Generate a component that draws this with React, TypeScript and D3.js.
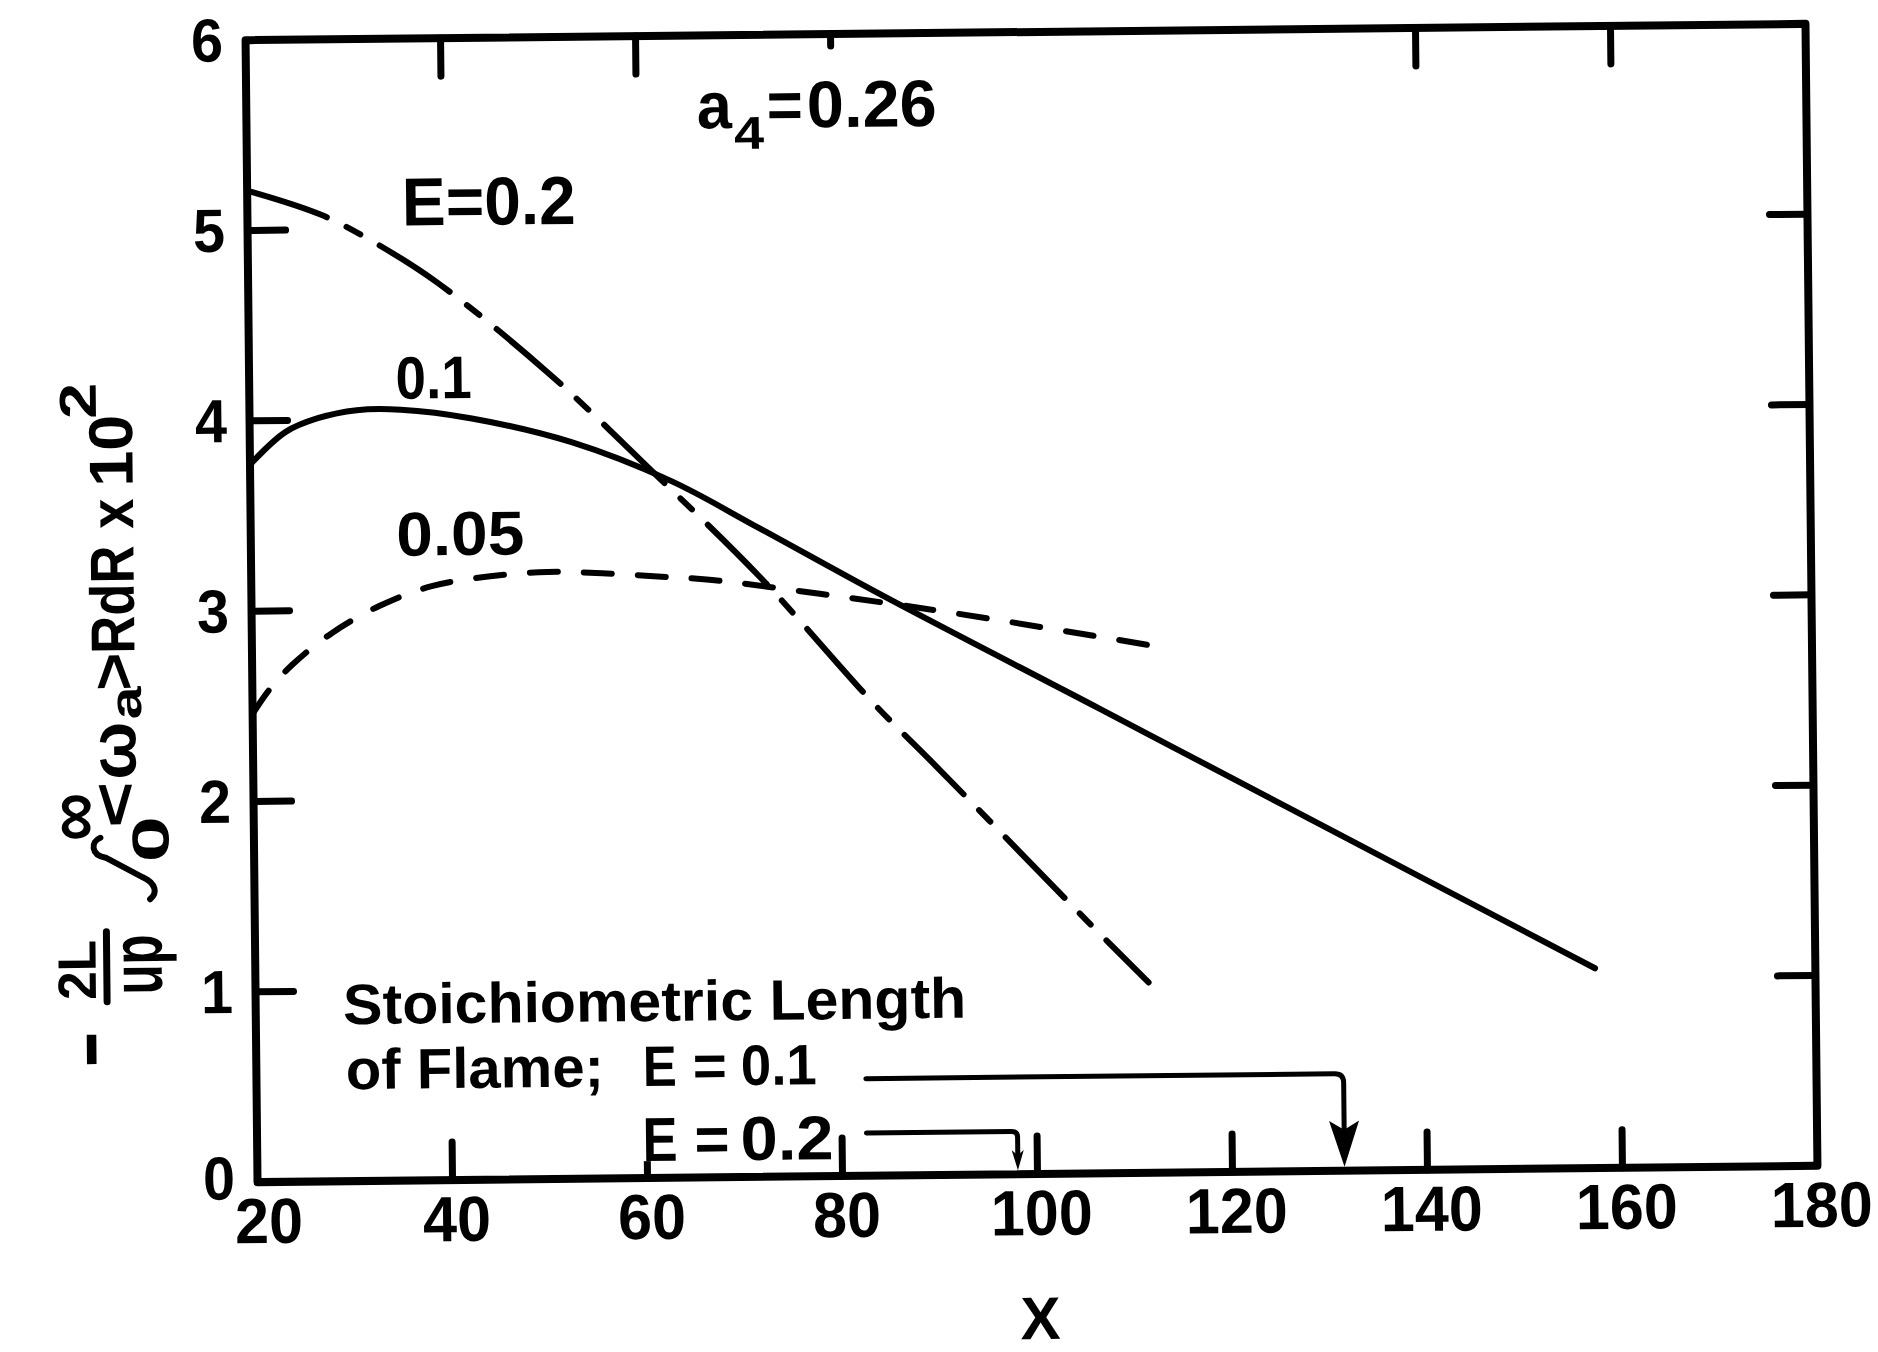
import React from "react";
import * as d3 from "d3";

const W = 1878;
const H = 1352;
const FONT = "'Liberation Sans', Arial, Helvetica, sans-serif";

// axes
const xDomain: [number, number] = [20, 180];
const yDomain: [number, number] = [0, 6];
const xTicks = [20, 40, 60, 80, 100, 120, 140, 160, 180];
const yTicks = [0, 1, 2, 3, 4, 5, 6];
const topTicks = [40, 60, 140, 160];
const topShortTicks = [80];

// E = 0.2 (long-short dashed)
const e02X = [20, 27.5, 33, 39.3, 50.8, 60.7, 72.2, 83.9, 90, 105.3, 111.6];
const e02Y = [5.21, 5.08, 4.93, 4.72, 4.23, 3.74, 3.15, 2.47, 2.15, 1.33, 1.0];

// E = 0.1 (solid)
const e01X = [20, 23.7, 27, 31, 35.5, 42.8, 53, 63.2, 72.1, 85, 106.9, 126.5, 157.4];
const e01Y = [3.77, 3.94, 4.01, 4.05, 4.05, 4.0, 3.87, 3.66, 3.41, 3.04, 2.44, 1.9, 1.05];

// E = 0.05 (dashed)
const e005X = [20, 21.8, 24.2, 28.2, 33.1, 38.4, 44.5, 50.4, 56, 61.7, 67, 78.3, 92.2, 112.3];
const e005Y = [2.46, 2.59, 2.72, 2.88, 3.02, 3.12, 3.17, 3.19, 3.18, 3.16, 3.14, 3.06, 2.95, 2.77];

// stoichiometric flame length markers
const stoichE01X = 131.5;
const stoichE02X = 98.0;
const leaderStartX = 82.5;
const leaderE01Y = 0.51;
const leaderE02Y = 0.225;

const L = 251.5;
const R = 1811.5;
const T = 32;
const B = 1174;
const TICK = 38;

export default function App() {
  const x = d3.scaleLinear().domain(xDomain).range([L, R]);
  const y = d3.scaleLinear().domain(yDomain).range([B, T]);
  const line = d3
    .line<[number, number]>()
    .x((d) => x(d[0]))
    .y((d) => y(d[1]))
    .curve(d3.curveCatmullRom.alpha(0.5));
  const zip = (xs: number[], ys: number[]) =>
    xs.map((v, i) => [v, ys[i]] as [number, number]);

  const innerX = xTicks.filter((v) => v !== xDomain[0] && v !== xDomain[1]);
  const innerY = yTicks.filter((v) => v !== yDomain[0] && v !== yDomain[1]);

  const a1x = x(stoichE01X);
  const a1y = y(leaderE01Y);
  const a2x = x(stoichE02X);
  const a2y = y(leaderE02Y);
  const base = y(0) - 4;
  const r = 9;

  const tl = (n: number) => ({ textLength: n, lengthAdjust: "spacingAndGlyphs" as const });

  return (
    <svg
      width={W}
      height={H}
      style={{ position: "absolute", left: 0, top: 0, background: "#fff" }}
    >
      <rect width={W} height={H} fill="#fff" />
      <g transform="rotate(-0.6 1031.5 603)" fontFamily={FONT} fontWeight="bold" fill="#000">
        {/* frame */}
        <rect
          x={L}
          y={T}
          width={R - L}
          height={B - T}
          fill="none"
          stroke="#000"
          strokeWidth={8}
          strokeLinejoin="round"
        />
        {/* ticks */}
        <g stroke="#000" strokeWidth={7} strokeLinecap="round">
          {innerX.map((v) => (
            <line key={"xb" + v} x1={x(v)} x2={x(v)} y1={B} y2={B - TICK} />
          ))}
          {topTicks.map((v) => (
            <line key={"xt" + v} x1={x(v)} x2={x(v)} y1={T} y2={T + TICK} />
          ))}
          {topShortTicks.map((v) => (
            <line key={"xs" + v} x1={x(v)} x2={x(v)} y1={T} y2={T + 12} />
          ))}
          {innerY.map((v) => (
            <g key={"yt" + v}>
              <line x1={L} x2={L + TICK} y1={y(v)} y2={y(v)} />
              <line x1={R} x2={R - TICK} y1={y(v)} y2={y(v)} />
            </g>
          ))}
        </g>
        {/* tick labels */}
        {xTicks.map((v, i) => (
          <text
            key={"xl" + v}
            x={x(v) + (i === 0 ? 11 : 4)}
            y={B + 61}
            fontSize={64}
            textAnchor="middle"
            {...tl(String(v).length * 34)}
          >
            {v}
          </text>
        ))}
        {yTicks.map((v) => (
          <text key={"yl" + v} x={229} y={y(v) + (v === 0 ? 17 : 21)} fontSize={61} textAnchor="end" {...tl(32)}>
            {v}
          </text>
        ))}

        {/* curves */}
        <path
          d={line(zip(e02X, e02Y)) || ""}
          fill="none"
          stroke="#000"
          strokeWidth={6}
          strokeLinecap="round"
          strokeDasharray="84 22 16 22"
        />
        <path
          d={line(zip(e01X, e01Y)) || ""}
          fill="none"
          stroke="#000"
          strokeWidth={6}
          strokeLinecap="round"
        />
        <path
          d={line(zip(e005X, e005Y)) || ""}
          fill="none"
          stroke="#000"
          strokeWidth={6}
          strokeLinecap="round"
          strokeDasharray="28 26"
        />

        {/* curve labels */}
        <text x={702} y={125} fontSize={66} {...tl(35)}>a</text>
        <text x={739} y={146} fontSize={46} {...tl(30)}>4</text>
        <text x={772} y={125} fontSize={66} {...tl(36)}>=</text>
        <text x={812} y={125} fontSize={66} {...tl(130)}>0.26</text>

        <text x={406} y={219} fontSize={68} {...tl(174)}>E=0.2</text>
        <text x={398} y={392} fontSize={60} {...tl(76)}>0.1</text>
        <text x={397} y={549} fontSize={62} {...tl(128)}>0.05</text>

        {/* stoichiometric length annotation */}
        <text x={339} y={1017} fontSize={57} {...tl(623)}>Stoichiometric Length</text>
        <text x={341} y={1082} fontSize={57} {...tl(258)}>of Flame;</text>
        <text x={638} y={1082} fontSize={57} {...tl(34)}>E</text>
        <text x={688} y={1082} fontSize={57} {...tl(34)}>=</text>
        <text x={736} y={1082} fontSize={57} {...tl(76)}>0.1</text>
        <rect x={630} y={1110} width={44} height={47} fill="#fff" />
        <text x={637} y={1157} fontSize={62} {...tl(35)}>E</text>
        <text x={689} y={1157} fontSize={62} {...tl(35)}>=</text>
        <text x={735} y={1157} fontSize={62} {...tl(93)}>0.2</text>

        <path
          d={`M${x(leaderStartX)},${a1y} H${a1x - r} Q${a1x},${a1y} ${a1x},${a1y + r} V${base - 30}`}
          fill="none"
          stroke="#000"
          strokeWidth={5}
          strokeLinecap="round"
        />
        <polygon
          points={`${a1x},${base} ${a1x - 15},${base - 46} ${a1x},${base - 37} ${a1x + 15},${base - 46}`}
          fill="#000"
        />
        <path
          d={`M${x(leaderStartX)},${a2y} H${a2x - 6} Q${a2x},${a2y} ${a2x},${a2y + 6} V${base - 12}`}
          fill="none"
          stroke="#000"
          strokeWidth={5}
          strokeLinecap="round"
        />
        <polygon
          points={`${a2x},${base} ${a2x - 6},${base - 20} ${a2x},${base - 15} ${a2x + 6},${base - 20}`}
          fill="#000"
        />

        {/* x axis title */}
        <text x={1033} y={1339} fontSize={60} textAnchor="middle">X</text>

        {/* y axis title */}
        <line x1={103} x2={103} y1={922} y2={992} stroke="#000" strokeWidth={7} strokeLinecap="round" />
        <path
          d="M98,828 C88,832 88,845 103,848 L140,868 C153,874 155,884 147,890"
          fill="none"
          stroke="#000"
          strokeWidth={6}
          strokeLinecap="round"
        />
        <g transform="rotate(-90)">
          <text x={-1055} y={107} fontSize={60} stroke="#000" strokeWidth={3} {...tl(31)}>−</text>
          <text x={-990} y={92} fontSize={54} {...tl(60)}>2L</text>
          <text x={-985} y={158} fontSize={72} {...tl(60)}>up</text>
          <text x={-831} y={97} fontSize={80} {...tl(48)}>∞</text>
          <text x={-853} y={166} fontSize={52} {...tl(46)}>0</text>
          <text x={-818} y={134} fontSize={62} {...tl(46)}>&lt;</text>
          <text x={-770} y={134} fontSize={66} {...tl(58)}>ω</text>
          <text x={-710} y={140} fontSize={44} {...tl(33)}>a</text>
          <text x={-681} y={134} fontSize={62} {...tl(38)}>&gt;</text>
          <text x={-644} y={134} fontSize={62} {...tl(108)}>RdR</text>
          <text x={-519} y={134} fontSize={62} {...tl(30)}>x</text>
          <text x={-477} y={134} fontSize={62} {...tl(72)}>10</text>
          <text x={-409} y={98} fontSize={52} {...tl(36)}>2</text>
        </g>
      </g>
    </svg>
  );
}
